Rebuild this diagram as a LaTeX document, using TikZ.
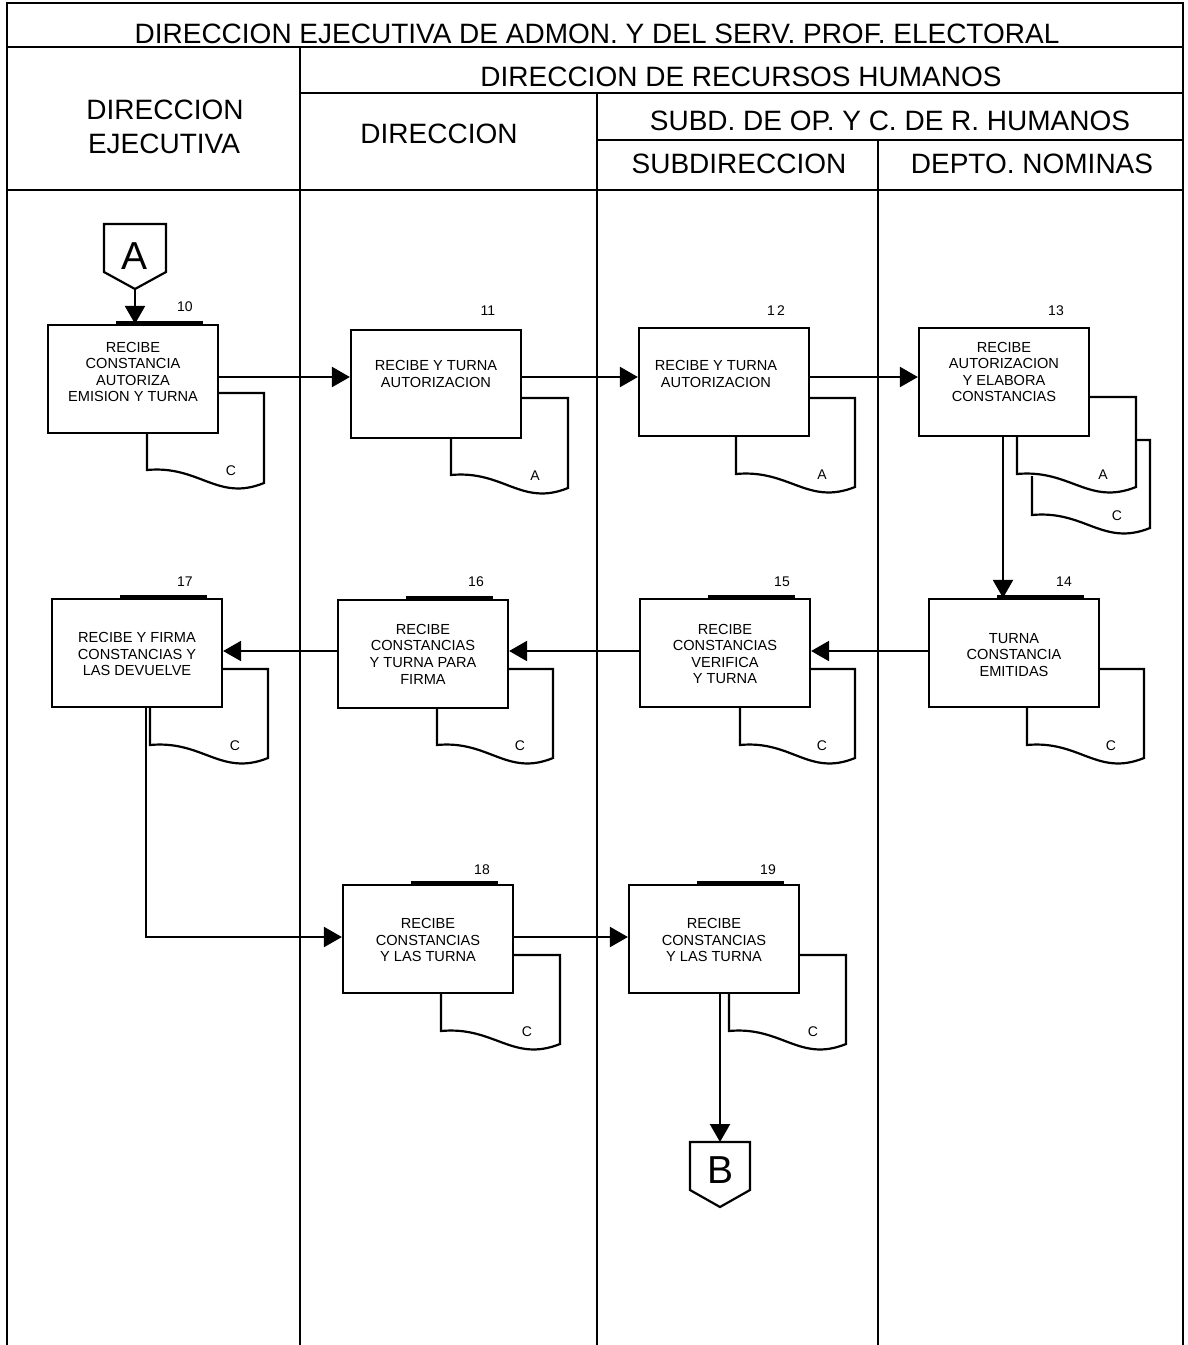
\documentclass[tikz,border=0pt]{standalone}
\usepackage{fontspec}
\setmainfont{Liberation Sans}
\usetikzlibrary{arrows.meta,calc}
\newcommand\mydoc[7]{%
  \draw[line] (#1,#2) -- (#3,#2) -- (#3,#6+13)
    .. controls ({#4+0.6*(#3-#4)},#6+32) and ({#4+0.45*(#3-#4)},#6-5) .. (#4,#6) -- (#4,#5);
  \node[lbl] at (#3-33,#6+1) {#7};}
\begin{document}
\begin{tikzpicture}[x=0.5pt,y=-0.5pt,
  line/.style={line width=1.1pt},
  arr/.style={line width=1.1pt,-{Triangle[length=9pt,width=10pt]}},
  hdr/.style={font=\fontsize{14}{16}\selectfont, inner sep=0pt, anchor=base},
  proc/.style={draw, line width=1.1pt, minimum width=85pt, minimum height=54pt, inner sep=0pt},
  ptext/.style={font=\fontsize{7.3}{8.3}\selectfont, align=center, inner sep=0pt},
  num/.style={font=\fontsize{7}{8}\selectfont, inner sep=0pt},
  lbl/.style={font=\fontsize{7}{8}\selectfont, inner sep=0pt},
  bar/.style={line width=2pt},
  big/.style={font=\fontsize{19.5}{22}\selectfont, inner sep=0pt}]
\useasboundingbox (0,0) rectangle (1188,1345);
% ---- frame and header ----
\draw[line] (7,1345) -- (7,3) -- (1183,3) -- (1183,1345);
\draw[line] (7,47) -- (1183,47);
\draw[line] (300,93) -- (1183,93);
\draw[line] (597,140) -- (1183,140);
\draw[line] (7,190) -- (1183,190);
\draw[line] (300,47) -- (300,1345);
\draw[line] (597,93) -- (597,1345);
\draw[line] (878,140) -- (878,1345);
\node[hdr] (h0) at (597,43) {DIRECCION EJECUTIVA DE ADMON. Y DEL SERV. PROF. ELECTORAL};
\node[hdr] (h1) at (741,86) {DIRECCION DE RECURSOS HUMANOS};
\node[hdr] (h2) at (890,130) {SUBD. DE OP. Y C. DE R. HUMANOS};
\node[hdr] (h3) at (739,173) {SUBDIRECCION};
\node[hdr] (h4) at (1032,173) {DEPTO. NOMINAS};
\node[hdr] (h5) at (165,119) {DIRECCION};
\node[hdr] (h6) at (164,153) {EJECUTIVA};
\node[hdr] (h7) at (439,143) {DIRECCION};
% ---- connector A ----
\draw[line] (104,224) -- (166,224) -- (166,272) -- (135,289) -- (104,272) -- cycle;
\node[big] (A) at (135,256) {A};
\coordinate (Atip) at (135,289);
% ---- boxes ----
\node[proc] (b10) at (133,379) {};
\node[proc] (b11) at (436,384) {};
\node[proc] (b12) at (724,382) {};
\node[proc] (b13) at (1004,382) {};
\node[proc] (b14) at (1014,653) {};
\node[proc] (b15) at (725,653) {};
\node[proc] (b16) at (423,654) {};
\node[proc] (b17) at (137,653) {};
\node[proc] (b18) at (428,939) {};
\node[proc] (b19) at (714,939) {};
\node[ptext] (t10) at (133,372) {RECIBE\\CONSTANCIA\\AUTORIZA\\EMISION Y TURNA};
\node[ptext] (t11) at (436,374) {RECIBE Y TURNA\\AUTORIZACION};
\node[ptext] (t12) at (716,374) {RECIBE Y TURNA\\AUTORIZACION};
\node[ptext] (t13) at (1004,372) {RECIBE\\AUTORIZACION\\Y ELABORA\\CONSTANCIAS};
\node[ptext] (t14) at (1014,655) {TURNA\\CONSTANCIA\\EMITIDAS};
\node[ptext] (t15) at (725,654) {RECIBE\\CONSTANCIAS\\VERIFICA\\Y TURNA};
\node[ptext] (t16) at (423,654) {RECIBE\\CONSTANCIAS\\Y TURNA PARA\\FIRMA};
\node[ptext] (t17) at (137,654) {RECIBE Y FIRMA\\CONSTANCIAS Y\\LAS DEVUELVE};
\node[ptext] (t18) at (428,940) {RECIBE\\CONSTANCIAS\\Y LAS TURNA};
\node[ptext] (t19) at (714,940) {RECIBE\\CONSTANCIAS\\Y LAS TURNA};
% ---- numbers ----
\node[num] (n10) at (185,307) {10};
\node[num] (n11) at (488,311) {11};
\node[num] (n12) at (776,311) {1\,2};
\node[num] (n13) at (1056,311) {13};
\node[num] (n14) at (1064,582) {14};
\node[num] (n15) at (782,582) {15};
\node[num] (n16) at (476,582) {16};
\node[num] (n17) at (185,582) {17};
\node[num] (n18) at (482,870) {18};
\node[num] (n19) at (768,870) {19};
% ---- thick bars ----
\foreach \b in {b10,b14,b15,b16,b17,b18,b19}{
  \draw[bar] ($(\b.north west)+(69,-1)$) -- ($(\b.north east)+(-16,-1)$);}
% ---- documents ----
\mydoc{218}{393}{264}{147}{433}{470}{C}
\mydoc{521}{398}{568}{451}{438}{475}{A}
\mydoc{809}{398}{855}{736}{436}{474}{A}
\mydoc{1089}{397}{1136}{1017}{436}{474}{A}
\draw[line] (1136,440) -- (1150,440) -- (1150,528)
  .. controls ({1032+0.6*118},547) and ({1032+0.45*118},510) .. (1032,515) -- (1032,476);
\node[lbl] at (1117,516) {C};
\mydoc{1099}{669}{1144}{1027}{707}{745}{C}
\mydoc{810}{669}{855}{740}{707}{745}{C}
\mydoc{508}{669}{553}{437}{708}{745}{C}
\mydoc{222}{669}{268}{150}{707}{745}{C}
\mydoc{513}{955}{560}{441}{993}{1031}{C}
\mydoc{799}{955}{846}{729}{993}{1031}{C}
% ---- connector B ----
\draw[line] (690,1142) -- (750,1142) -- (750,1190) -- (720,1207) -- (690,1190) -- cycle;
\node[big] (B) at (720,1170) {B};
\coordinate (Btop) at (720,1142);
% ---- row levels ----
\coordinate (r1) at (0,377);
\coordinate (r2) at (0,651);
\coordinate (r3) at (0,937);
% ---- flow ----
\draw[arr] (Atip) -- (Atip |- b10.north);
\draw[arr] (b10.east |- r1) -- (b11.west |- r1);
\draw[arr] (b11.east |- r1) -- (b12.west |- r1);
\draw[arr] (b12.east |- r1) -- (b13.west |- r1);
\coordinate (c13) at ($(b13.south)+(-1,0)$);
\draw[arr] (c13) -- (c13 |- b14.north);
\draw[arr] (b14.west |- r2) -- (b15.east |- r2);
\draw[arr] (b15.west |- r2) -- (b16.east |- r2);
\draw[arr] (b16.west |- r2) -- (b17.east |- r2);
\coordinate (c17) at ($(b17.south)+(9,0)$);
\draw[arr] (c17) -- (c17 |- r3) -- (b18.west |- r3);
\draw[arr] (b18.east |- r3) -- (b19.west |- r3);
\draw[arr] (Btop |- b19.south) -- (Btop);
\end{tikzpicture}
\end{document}
